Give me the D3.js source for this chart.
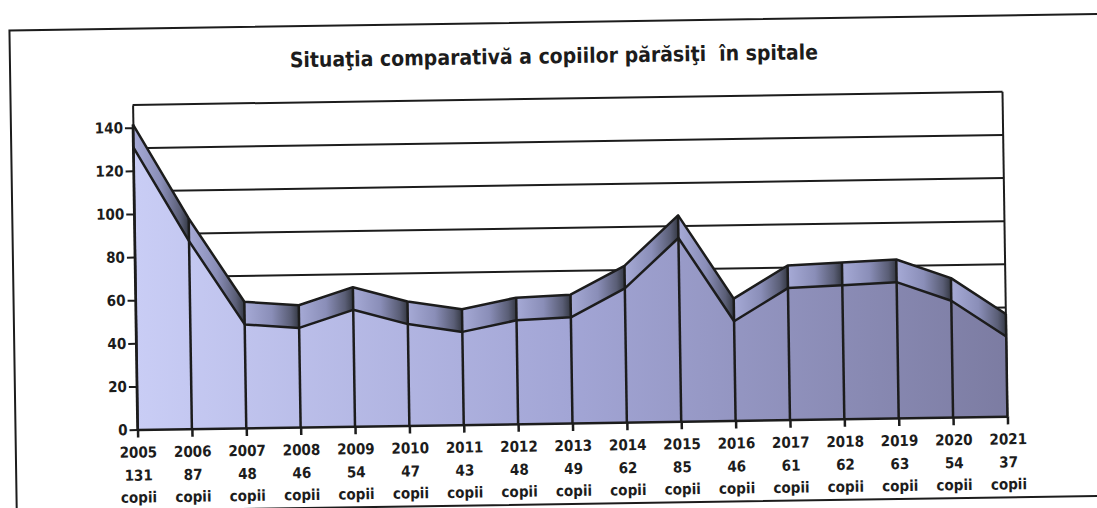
<!DOCTYPE html>
<html>
<head>
<meta charset="utf-8">
<script src="https://cdn.jsdelivr.net/npm/d3@7"></script>
<style>
  body { margin: 0; background: #fff; }
  svg text { font-family: "DejaVu Sans Condensed", "DejaVu Sans", sans-serif; font-weight: bold; fill: #1c1c1c; }
</style>
</head>
<body>
<svg></svg>
<script>
// data
var years = [2005, 2006, 2007, 2008, 2009, 2010, 2011, 2012, 2013, 2014, 2015, 2016, 2017, 2018, 2019, 2020, 2021];
var values = [131, 87, 48, 46, 54, 47, 43, 48, 49, 62, 85, 46, 61, 62, 63, 54, 37];
var yTicks = [0, 20, 40, 60, 80, 100, 120, 140];
var unit = "copii";
var title = "Situaţia comparativă a copiilor părăsiţi  în spitale";

var svgWidth = 1097, svgHeight = 508;
var depth = 10.5; // 3d depth of the area, in value units
var ink = "#1c1c1c";

var svg = d3.select("svg").attr("width", svgWidth).attr("height", svgHeight);

// gradients
var defs = svg.append("defs");
var front = defs.append("linearGradient").attr("id", "frontFill")
    .attr("gradientUnits", "userSpaceOnUse")
    .attr("x1", 135).attr("x2", 1005).attr("y1", 0).attr("y2", 0);
front.append("stop").attr("offset", 0).attr("stop-color", "#c9cdf5");
front.append("stop").attr("offset", 0.5).attr("stop-color", "#a2a5d5");
front.append("stop").attr("offset", 1).attr("stop-color", "#7c7ca2");

var band = defs.append("linearGradient").attr("id", "bandFill")
    .attr("x1", 0).attr("x2", 1).attr("y1", 0).attr("y2", 0);
band.append("stop").attr("offset", 0).attr("stop-color", "#a6aad6");
band.append("stop").attr("offset", 0.5).attr("stop-color", "#8a8eb8");
band.append("stop").attr("offset", 0.85).attr("stop-color", "#5a5e76");
band.append("stop").attr("offset", 1).attr("stop-color", "#353944");

// the scan is slightly tilted
var page = svg.append("g").attr("transform", "rotate(-0.87, 570, 260)");

page.append("rect")
    .attr("x", 13).attr("y", 22).attr("width", 1110).attr("height", 482)
    .attr("fill", "none").attr("stroke", ink).attr("stroke-width", 2);

page.append("text")
    .attr("x", 557).attr("y", 63)
    .attr("text-anchor", "middle")
    .style("font-size", "21px")
    .style("white-space", "pre")
    .text(title);

var xScale = d3.scalePoint().domain(years).range([135, 1005]);
var yScale = d3.scaleLinear().domain([0, 140 + depth]).range([423, 423 - (140 + depth) * 2.157]);

// back wall gridlines
page.append("g").selectAll("line")
    .data(yTicks.slice(1))
    .enter()
    .append("line")
    .attr("x1", xScale(2005)).attr("x2", xScale(2021))
    .attr("y1", function (d) { return yScale(d + depth); })
    .attr("y2", function (d) { return yScale(d + depth); })
    .attr("stroke", ink).attr("stroke-width", 2);

page.append("line")
    .attr("x1", xScale(2021)).attr("x2", xScale(2021))
    .attr("y1", yScale(0)).attr("y2", yScale(140 + depth))
    .attr("stroke", ink).attr("stroke-width", 2);

var rows = years.map(function (y, i) { return { year: y, value: values[i] }; });

// front face
var area = d3.area()
    .x(function (d) { return xScale(d.year); })
    .y0(yScale(0))
    .y1(function (d) { return yScale(d.value); });

page.append("path")
    .datum(rows)
    .attr("d", area)
    .attr("fill", "url(#frontFill)");

// top bands, one per segment
var segs = d3.pairs(rows);
page.append("g").selectAll("path")
    .data(segs)
    .enter()
    .append("path")
    .attr("d", function (s) {
        var a = s[0], b = s[1];
        return "M" + xScale(a.year) + "," + yScale(a.value) +
            "L" + xScale(b.year) + "," + yScale(b.value) +
            "L" + xScale(b.year) + "," + yScale(b.value + depth) +
            "L" + xScale(a.year) + "," + yScale(a.value + depth) + "Z";
    })
    .attr("fill", "url(#bandFill)");

var frontLine = d3.line()
    .x(function (d) { return xScale(d.year); })
    .y(function (d) { return yScale(d.value); });
var backLine = d3.line()
    .x(function (d) { return xScale(d.year); })
    .y(function (d) { return yScale(d.value + depth); });

page.append("path").datum(rows).attr("d", frontLine)
    .attr("fill", "none").attr("stroke", ink).attr("stroke-width", 2.5).attr("stroke-linejoin", "round");
page.append("path").datum(rows).attr("d", backLine)
    .attr("fill", "none").attr("stroke", ink).attr("stroke-width", 2.5).attr("stroke-linejoin", "round");

// vertical edges at every year
page.append("g").selectAll("line")
    .data(rows)
    .enter()
    .append("line")
    .attr("x1", function (d) { return xScale(d.year); })
    .attr("x2", function (d) { return xScale(d.year); })
    .attr("y1", yScale(0))
    .attr("y2", function (d) { return yScale(d.value + depth); })
    .attr("stroke", ink).attr("stroke-width", 2.5);

// axes
var y_axis = d3.axisLeft(yScale).tickValues(yTicks).tickSize(8).tickSizeOuter(0).tickPadding(2);
var yg = page.append("g").attr("transform", "translate(" + xScale(2005) + ",0)").call(y_axis);
yg.selectAll("text").style("font-size", "15px");

var x_axis = d3.axisBottom(xScale).tickSize(8).tickSizeOuter(0).tickFormat("");
var xg = page.append("g").attr("transform", "translate(0," + yScale(0) + ")").call(x_axis);

yg.selectAll("path, line").attr("stroke", ink).attr("stroke-width", 2);
xg.selectAll("path, line").attr("stroke", ink).attr("stroke-width", 2.5);

var lbl = xg.selectAll(".tick").append("text")
    .attr("text-anchor", "middle")
    .style("font-size", "15px");
lbl.append("tspan").attr("x", 0).attr("y", 28).text(function (d) { return d; });
lbl.append("tspan").attr("x", 0).attr("y", 51).text(function (d, i) { return values[i]; });
lbl.append("tspan").attr("x", 0).attr("y", 73).text(unit);
</script>
</body>
</html>
